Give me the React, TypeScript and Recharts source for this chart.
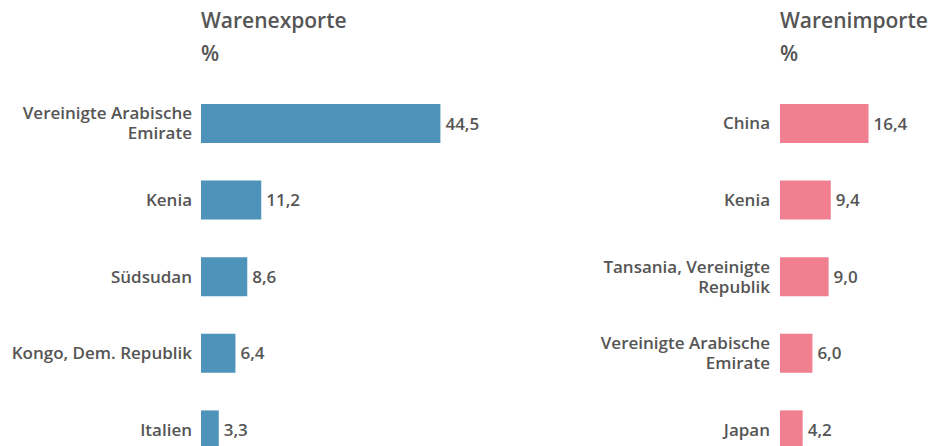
import { BarChart, Bar, XAxis, YAxis, LabelList } from 'recharts'

const exportCountries = ['Vereinigte Arabische Emirate', 'Kenia', 'Südsudan', 'Kongo, Dem. Republik', 'Italien']
const exportShares = [44.5, 11.2, 8.6, 6.4, 3.3]

const importCountries = ['China', 'Kenia', 'Tansania, Vereinigte Republik', 'Vereinigte Arabische Emirate', 'Japan']
const importShares = [16.4, 9.4, 9.0, 6.0, 4.2]

const FONT = '"Open Sans", "Noto Sans", sans-serif'
const TEXT_COLOR = '#555555'
const LABEL_SIZE = 17
const LINE_HEIGHT = 20

const exportData = exportCountries.map((name, i) => ({ name, value: exportShares[i] }))
const importData = importCountries.map((name, i) => ({ name, value: importShares[i] }))

const formatValue = (v: any) => Number(v).toFixed(1).replace('.', ',')

let ctx: CanvasRenderingContext2D | null = null
function measure(s: string) {
  if (!ctx) ctx = document.createElement('canvas').getContext('2d')
  if (!ctx) return s.length * 9
  ctx.font = `600 ${LABEL_SIZE}px ${FONT}`
  return ctx.measureText(s).width
}

// greedy word wrap to a max width
function wrap(label: string, maxWidth: number) {
  const lines: string[] = []
  let cur = ''
  label.split(' ').forEach((w) => {
    const next = cur ? cur + ' ' + w : w
    if (cur && measure(next) > maxWidth) {
      lines.push(cur)
      cur = w
    } else {
      cur = next
    }
  })
  if (cur) lines.push(cur)
  return lines
}

function CountryTick(props: any) {
  const { x, y, payload } = props
  const lines = wrap(String(payload.value), 190)
  const first = y - ((lines.length - 1) * LINE_HEIGHT) / 2 + 6
  return (
    <text
      x={x}
      y={first}
      textAnchor="end"
      fill={TEXT_COLOR}
      fontSize={LABEL_SIZE}
      fontWeight={600}
      fontFamily={FONT}
    >
      {lines.map((l, i) => (
        <tspan key={i} x={x} y={first + i * LINE_HEIGHT}>
          {l}
        </tspan>
      ))}
    </text>
  )
}

function Title({ left, text }: { left: number; text: string }) {
  return (
    <div
      style={{
        position: 'absolute',
        left,
        top: 4,
        fontFamily: FONT,
        fontWeight: 600,
        fontSize: 21,
        lineHeight: '33px',
        color: TEXT_COLOR,
        whiteSpace: 'nowrap',
      }}
    >
      <div>{text}</div>
      <div>%</div>
    </div>
  )
}

interface PanelProps {
  data: { name: string; value: number }[]
  color: string
  width: number
  left: number
  axisWidth: number
  rightMargin: number
  max: number
  tickMargin: number
}

function Panel({ data, color, width, left, axisWidth, rightMargin, max, tickMargin }: PanelProps) {
  return (
    <div style={{ position: 'absolute', left, top: 0 }}>
      <BarChart
        width={width}
        height={470}
        data={data}
        layout="vertical"
        margin={{ top: 85, right: rightMargin, bottom: 2, left: 0 }}
      >
        <XAxis type="number" domain={[0, max]} hide />
        <YAxis
          type="category"
          dataKey="name"
          width={axisWidth}
          axisLine={false}
          tickLine={false}
          tickMargin={tickMargin}
          tick={<CountryTick />}
          interval={0}
        />
        <Bar dataKey="value" fill={color} barSize={39} isAnimationActive={false}>
          <LabelList
            dataKey="value"
            position="right"
            offset={5}
            formatter={formatValue}
            fill={TEXT_COLOR}
            fontSize={LABEL_SIZE}
            fontWeight={600}
            fontFamily={FONT}
          />
        </Bar>
      </BarChart>
    </div>
  )
}

export default function App() {
  return (
    <div style={{ position: 'absolute', left: 0, top: 0, width: 931, height: 446, overflow: 'hidden', background: '#fff' }}>
      <Title left={201} text="Warenexporte" />
      <Title left={780} text="Warenimporte" />
      <Panel data={exportData} color="#4E93B9" width={490} left={0} axisWidth={201} rightMargin={20} max={50} tickMargin={3} />
      <Panel data={importData} color="#F08090" width={351} left={580} axisWidth={200} rightMargin={43} max={20} tickMargin={4} />
    </div>
  )
}
